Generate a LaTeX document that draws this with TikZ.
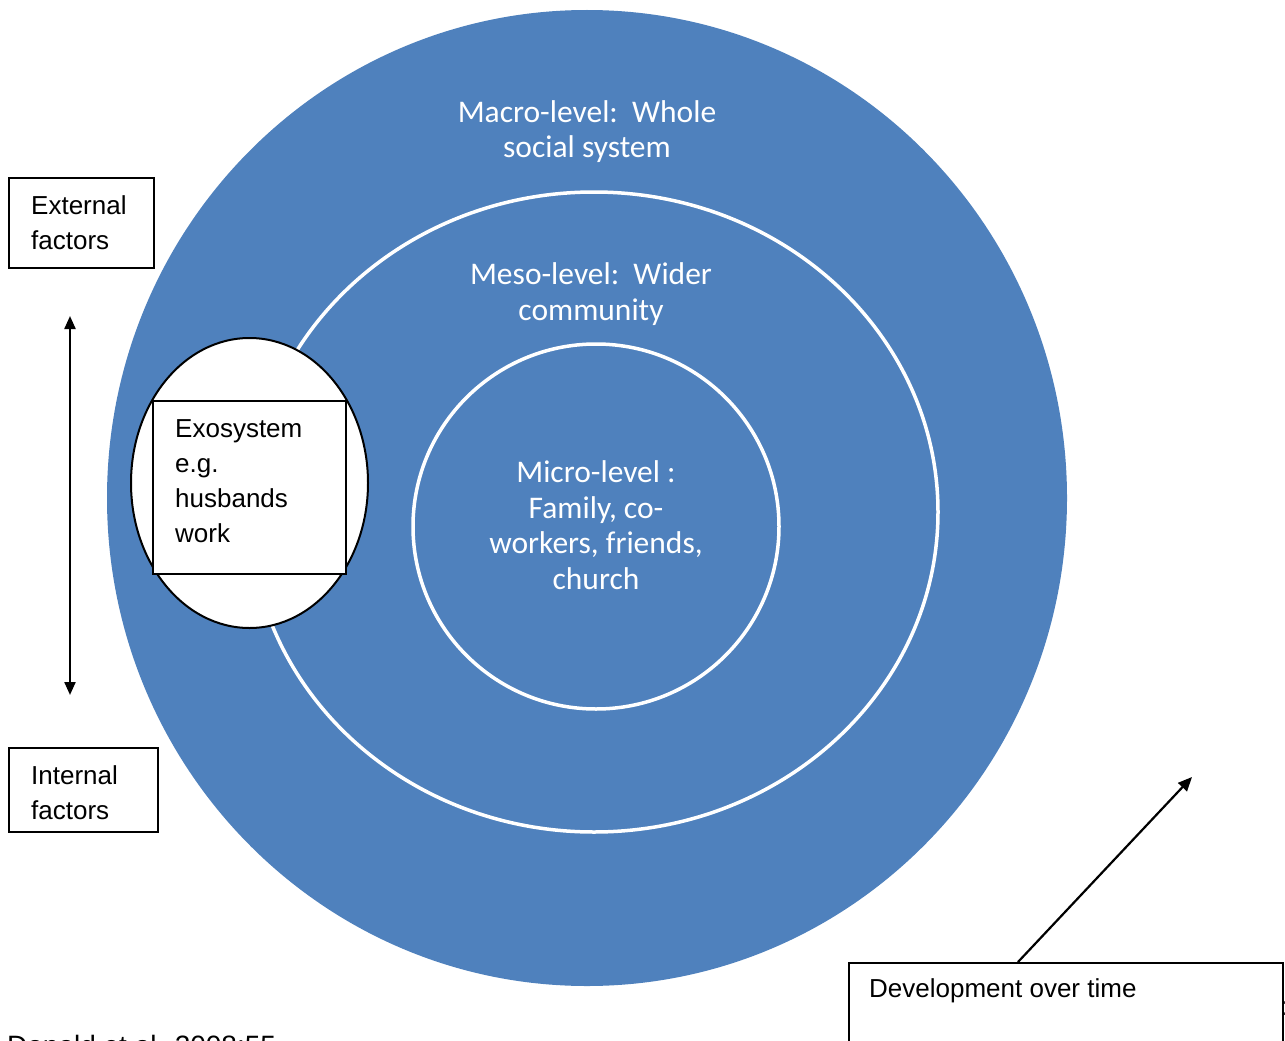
\documentclass[tikz,border=0pt]{standalone}
\usepackage{fontspec}
\setmainfont{Liberation Sans}
\newfontfamily\calfont{Carlito}
\usetikzlibrary{arrows.meta}
\definecolor{ringblue}{HTML}{4F81BD}
\tikzset{
  box/.style={draw=black, line width=2pt, fill=white, inner sep=0pt},
  arial/.style={font=\fontsize{26}{35}\selectfont, text=black, inner sep=0pt, align=left},
  ringtext/.style={font=\calfont\fontsize{31.5}{35.5}\selectfont, text=white, inner sep=0pt, align=center},
  ringline/.style={draw=white, line width=3.5pt},
  arr/.style={line width=2.2pt, -{Triangle[length=14pt,width=12pt]}},
  dblarr/.style={line width=2.2pt, {Triangle[length=13pt,width=11pt]}-{Triangle[length=13pt,width=11pt]}}
}
\begin{document}
\begin{tikzpicture}[x=1pt,y=-1pt]
\useasboundingbox (0,0) rectangle (1285,1041);
% rings
\fill[ringblue] (587,498) ellipse [x radius=480, y radius=488];
\draw[ringline] (594,512) ellipse [x radius=344, y radius=320];
\draw[ringline] (596,526.5) ellipse [x radius=183, y radius=182.5];
% exosystem
\draw[black, line width=2pt, fill=white] (249.5,483) ellipse [x radius=118.5, y radius=145];
\node[box, minimum width=193pt, minimum height=173pt] (exobox) at (249.5,487.5) {};
\node[arial, anchor=base west] (exotext) at (175,542.5) {Exosystem\\e.g.\\husbands\\work};
% ring labels
\node[ringtext, anchor=base] (macro) at (587,157.5) {Macro-level:\ \ Whole\\social system};
\node[ringtext, anchor=base] (meso) at (591,320) {Meso-level:\ \ Wider\\community};
\node[ringtext, anchor=base] (micro) at (596,589) {Micro-level :\\Family, co-\\workers, friends,\\church};
% factor boxes
\node[box, minimum width=145pt, minimum height=90pt] (ext) at (81.5,223) {};
\node[arial, anchor=base west] (exttext) at (31,249.5) {External\\factors};
\node[box, minimum width=149pt, minimum height=84pt] (int) at (83.5,790) {};
\node[arial, anchor=base west] (inttext) at (31,819) {Internal\\factors};
\coordinate (uptip) at (70,316);
\coordinate (downtip) at (70,695);
\draw[dblarr] (uptip) -- (downtip);
% development
\node[box, anchor=north west, minimum width=434pt, minimum height=110pt] (dev) at (848,962) {};
\node[arial, anchor=base west] (devtext) at (869,997.5) {Development over time};
\coordinate (devtip) at (1192,777);
\draw[arr] ([xshift=-48pt]dev.north) -- (devtip);
% clipped texts at the page edge
\node[font=\fontsize{28}{33}\selectfont, inner sep=0pt, anchor=base west] (cite) at (7,1055) {Donald et al. 2008:55};
\node[font=\fontsize{26}{35}\selectfont, inner sep=0pt, anchor=base west] (colon) at (1280,1015) {:};
\end{tikzpicture}
\end{document}
